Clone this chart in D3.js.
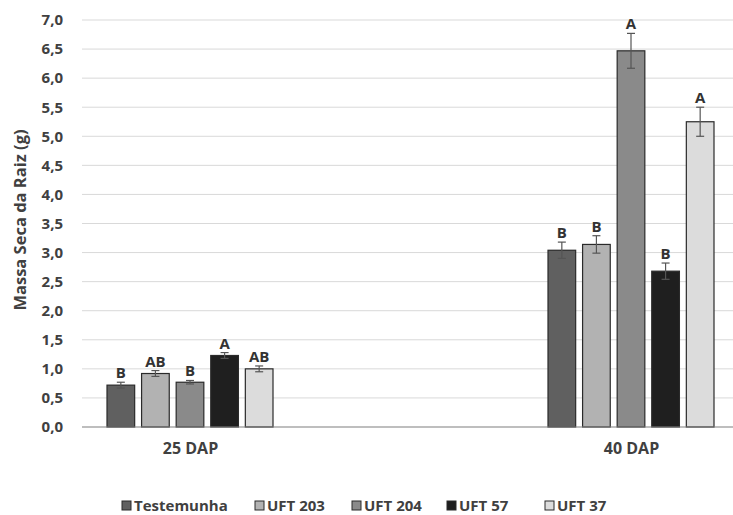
<!DOCTYPE html>
<html><head><meta charset="utf-8">
<script src="https://cdn.jsdelivr.net/npm/d3@7"></script>
<style>body{margin:0;background:#fff}svg{display:block}text{font-family:"Open Sans",Lato,sans-serif}</style>
</head><body><svg id="c" width="733" height="515"></svg>
<script>
const categories = ["25 DAP", "40 DAP"];
const seriesNames = ["Testemunha", "UFT 203", "UFT 204", "UFT 57", "UFT 37"];
const values25 = [0.72, 0.92, 0.77, 1.23, 1.00];
const values40 = [3.04, 3.14, 6.47, 2.68, 5.25];
const errors25 = [0.05, 0.05, 0.03, 0.05, 0.05];
const errors40 = [0.14, 0.15, 0.30, 0.14, 0.25];
const letters25 = ["B", "AB", "B", "A", "AB"];
const letters40 = ["B", "B", "A", "B", "A"];
const yTicks = [0, 0.5, 1, 1.5, 2, 2.5, 3, 3.5, 4, 4.5, 5, 5.5, 6, 6.5, 7];
const colors = ["#606060", "#b2b2b2", "#8a8a8a", "#1f1f1f", "#dcdcdc"];

const values = [values25, values40], errors = [errors25, errors40], letters = [letters25, letters40];
const svg = d3.select("#c");
const plotL = 82, plotR = 733, plotT = 20, plotB = 427;
const FS = 15;
const y = d3.scaleLinear().domain([0, 7]).range([plotB, plotT]);
const x0 = d3.scalePoint().domain(categories).range([190, 631]);
const x1 = d3.scaleBand().domain(seriesNames).range([-83, 83]).paddingInner(0.2);

svg.append("g").selectAll("line").data(yTicks.slice(1)).join("line")
  .attr("x1", plotL).attr("x2", plotR).attr("y1", d => y(d)).attr("y2", d => y(d))
  .attr("stroke", "#d9d9d9").attr("stroke-width", 1);

const yAxis = d3.axisLeft(y).tickValues(yTicks).tickSize(0).tickPadding(0)
  .tickFormat(d => d3.format(".1f")(d).replace(".", ","));
const ya = svg.append("g").attr("transform", `translate(63,0)`).call(yAxis);
ya.select(".domain").remove();
ya.selectAll("text").attr("font-size", FS).attr("font-weight", 700).attr("fill", "#404040")
  .attr("font-family", "'Open Sans', sans-serif");

categories.forEach((cat, ci) => {
  const g = svg.append("g").attr("transform", `translate(${x0(cat)},0)`);
  seriesNames.forEach((s, si) => {
    const v = values[ci][si], e = errors[ci][si];
    const bx = x1(s), bw = x1.bandwidth(), cx = bx + bw / 2;
    g.append("rect").attr("x", bx).attr("y", y(v)).attr("width", bw).attr("height", y(0) - y(v))
      .attr("fill", colors[si]).attr("stroke", "#2a2a2a").attr("stroke-width", 1.2);
    g.append("line").attr("x1", cx).attr("x2", cx).attr("y1", y(v + e)).attr("y2", y(v - e))
      .attr("stroke", "#555").attr("stroke-width", 1.2);
    [v + e, v - e].forEach(t => g.append("line").attr("x1", cx - 4).attr("x2", cx + 4)
      .attr("y1", y(t)).attr("y2", y(t)).attr("stroke", "#555").attr("stroke-width", 1.2));
    g.append("text").attr("x", cx).attr("y", y(v + e) - 4).attr("text-anchor", "middle")
      .attr("font-size", FS).attr("font-weight", 700).attr("fill", "#333").text(letters[ci][si]);
  });
});

svg.append("line").attr("x1", plotL).attr("x2", plotR).attr("y1", y(0)).attr("y2", y(0))
  .attr("stroke", "#7f7f7f").attr("stroke-width", 1.2);

const xAxis = d3.axisBottom(x0).tickSize(0).tickPadding(0);
const xa = svg.append("g").attr("transform", `translate(0,${plotB + 16})`).call(xAxis);
xa.select(".domain").remove();
xa.selectAll("text").attr("font-size", FS + 1).attr("font-weight", 700).attr("fill", "#404040")
  .attr("font-family", "'Open Sans', sans-serif");

svg.append("text").attr("transform", `translate(26,220) rotate(-90)`)
  .attr("text-anchor", "middle").attr("font-size", FS + 1.5).attr("font-weight", 700).attr("fill", "#404040")
  .text("Massa Seca da Raiz (g)");

const legendX = [122, 255, 352, 447, 545];
const lg = svg.append("g");
seriesNames.forEach((s, i) => {
  lg.append("rect").attr("x", legendX[i]).attr("y", 501).attr("width", 9).attr("height", 9)
    .attr("fill", colors[i]).attr("stroke", "#2a2a2a").attr("stroke-width", 1);
  lg.append("text").attr("x", legendX[i] + 12).attr("y", 511).attr("font-size", FS)
    .attr("font-weight", 700).attr("fill", "#404040").text(s);
});
</script></body></html>
